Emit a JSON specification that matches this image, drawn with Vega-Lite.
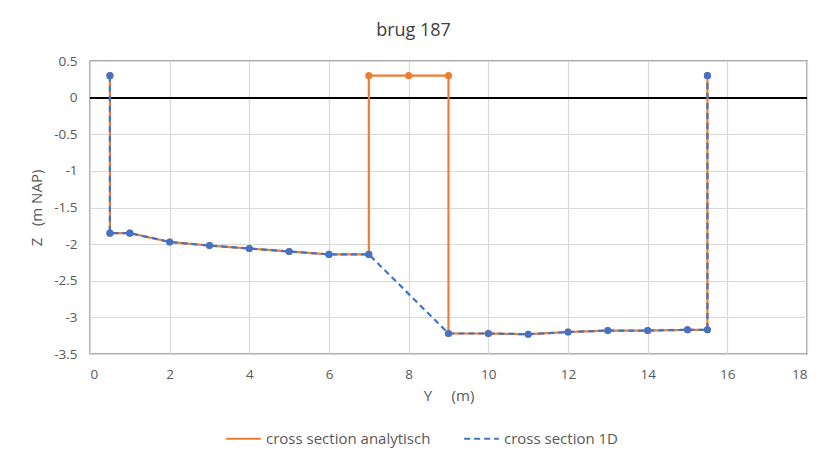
{
  "$schema": "https://vega.github.io/schema/vega-lite/v6.json",
  "width": 717,
  "height": 293,
  "autosize": "none",
  "padding": {"left": 90, "top": 61, "right": 15, "bottom": 102},
  "background": "white",
  "title": {"text": "brug 187", "fontSize": 18, "font": "Open Sans", "fontWeight": "normal", "color": "#404040", "anchor": "middle", "frame": "group", "dx": -35, "offset": 14},
  "data": {"values": [
    {"series": "cross section analytisch", "i": 1, "y": 0.5, "z": 0.3},
    {"series": "cross section analytisch", "i": 2, "y": 0.5, "z": -1.85},
    {"series": "cross section analytisch", "i": 3, "y": 1, "z": -1.85},
    {"series": "cross section analytisch", "i": 4, "y": 2, "z": -1.97},
    {"series": "cross section analytisch", "i": 5, "y": 3, "z": -2.02},
    {"series": "cross section analytisch", "i": 6, "y": 4, "z": -2.06},
    {"series": "cross section analytisch", "i": 7, "y": 5, "z": -2.1},
    {"series": "cross section analytisch", "i": 8, "y": 6, "z": -2.14},
    {"series": "cross section analytisch", "i": 9, "y": 7, "z": -2.14},
    {"series": "cross section analytisch", "i": 10, "y": 7, "z": 0.3},
    {"series": "cross section analytisch", "i": 11, "y": 8, "z": 0.3},
    {"series": "cross section analytisch", "i": 12, "y": 9, "z": 0.3},
    {"series": "cross section analytisch", "i": 13, "y": 9, "z": -3.22},
    {"series": "cross section analytisch", "i": 14, "y": 10, "z": -3.22},
    {"series": "cross section analytisch", "i": 15, "y": 11, "z": -3.23},
    {"series": "cross section analytisch", "i": 16, "y": 12, "z": -3.2},
    {"series": "cross section analytisch", "i": 17, "y": 13, "z": -3.18},
    {"series": "cross section analytisch", "i": 18, "y": 14, "z": -3.18},
    {"series": "cross section analytisch", "i": 19, "y": 15, "z": -3.17},
    {"series": "cross section analytisch", "i": 20, "y": 15.5, "z": -3.17},
    {"series": "cross section analytisch", "i": 21, "y": 15.5, "z": 0.3},
    {"series": "cross section 1D", "i": 1, "y": 0.5, "z": 0.3},
    {"series": "cross section 1D", "i": 2, "y": 0.5, "z": -1.85},
    {"series": "cross section 1D", "i": 3, "y": 1, "z": -1.85},
    {"series": "cross section 1D", "i": 4, "y": 2, "z": -1.97},
    {"series": "cross section 1D", "i": 5, "y": 3, "z": -2.02},
    {"series": "cross section 1D", "i": 6, "y": 4, "z": -2.06},
    {"series": "cross section 1D", "i": 7, "y": 5, "z": -2.1},
    {"series": "cross section 1D", "i": 8, "y": 6, "z": -2.14},
    {"series": "cross section 1D", "i": 9, "y": 7, "z": -2.14},
    {"series": "cross section 1D", "i": 10, "y": 9, "z": -3.22},
    {"series": "cross section 1D", "i": 11, "y": 10, "z": -3.22},
    {"series": "cross section 1D", "i": 12, "y": 11, "z": -3.23},
    {"series": "cross section 1D", "i": 13, "y": 12, "z": -3.2},
    {"series": "cross section 1D", "i": 14, "y": 13, "z": -3.18},
    {"series": "cross section 1D", "i": 15, "y": 14, "z": -3.18},
    {"series": "cross section 1D", "i": 16, "y": 15, "z": -3.17},
    {"series": "cross section 1D", "i": 17, "y": 15.5, "z": -3.17},
    {"series": "cross section 1D", "i": 18, "y": 15.5, "z": 0.3}
  ]},
  "encoding": {
    "x": {"field": "y", "type": "quantitative", "scale": {"domain": [0, 18], "nice": false, "zero": false},
      "axis": {"values": [0, 2, 4, 6, 8, 10, 12, 14, 16, 18], "title": "Y\u00a0\u00a0\u00a0\u00a0\u00a0(m)", "labelPadding": 13, "titlePadding": 8}},
    "y": {"field": "z", "type": "quantitative", "scale": {"domain": [-3.5, 0.5], "nice": false, "zero": false},
      "axis": {"values": [-3.5, -3, -2.5, -2, -1.5, -1, -0.5, 0, 0.5], "labelExpr": "'' + datum.value", "title": "Z\u00a0\u00a0\u00a0(m NAP)", "labelPadding": 13, "titlePadding": 9}}
  },
  "layer": [
    {
      "mark": {"type": "rule", "color": "#000000", "strokeWidth": 1},
      "encoding": {"y": {"datum": 0}, "x": {"datum": 0}, "x2": {"datum": 18}}
    },
    {
      "transform": [{"filter": "datum.series === 'cross section analytisch'"}],
      "mark": {"type": "line", "strokeWidth": 2.2, "point": {"filled": true, "size": 50}},
      "encoding": {
        "order": {"field": "i", "type": "quantitative"},
        "color": {"field": "series", "type": "nominal", "scale": {"domain": ["cross section analytisch", "cross section 1D"], "range": ["#ED7D31", "#4472C4"]}, "legend": {"title": null}},
        "strokeDash": {"field": "series", "type": "nominal", "scale": {"domain": ["cross section analytisch", "cross section 1D"], "range": [[1, 0], [6, 4]]}, "legend": {"title": null}}
      }
    },
    {
      "transform": [{"filter": "datum.series === 'cross section 1D'"}],
      "mark": {"type": "line", "strokeWidth": 2.2, "point": {"filled": true, "size": 50}},
      "encoding": {
        "order": {"field": "i", "type": "quantitative"},
        "color": {"field": "series", "type": "nominal", "legend": {"title": null}},
        "strokeDash": {"field": "series", "type": "nominal", "legend": {"title": null}}
      }
    }
  ],
  "resolve": {"scale": {"color": "shared", "strokeDash": "shared"}},
  "config": {
    "view": {"stroke": "#595959", "strokeWidth": 1.3},
    "font": "Open Sans",
    "axis": {"grid": true, "gridColor": "#d9d9d9", "gridWidth": 1.2, "domain": false, "ticks": false, "labelColor": "#595959", "labelFontSize": 13.5, "titleColor": "#595959", "titleFontSize": 15, "titleFontWeight": "normal"},
    "legend": {"orient": "none", "legendX": 135, "legendY": 359, "direction": "horizontal", "symbolType": "stroke", "symbolSize": 1200, "symbolStrokeWidth": 2.2, "labelFontSize": 15, "labelLimit": 400, "labelColor": "#595959", "columnPadding": 28, "labelOffset": 4}
  }
}
